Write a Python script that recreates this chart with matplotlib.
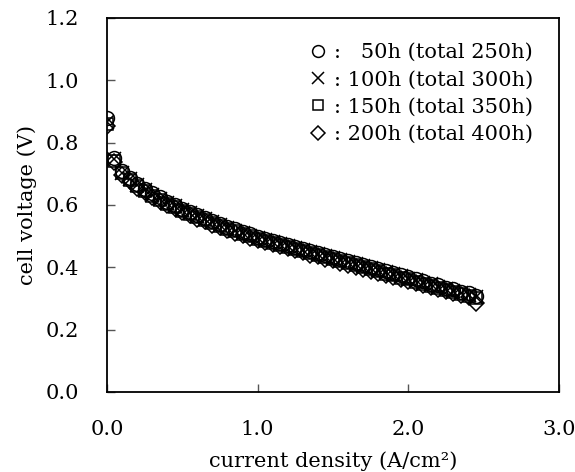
import numpy as np
import matplotlib
matplotlib.use("Agg")
import matplotlib.pyplot as plt

# data
current_density = [0.00, 0.05, 0.10, 0.15, 0.20, 0.25, 0.30, 0.35, 0.40, 0.45,
                   0.50, 0.55, 0.60, 0.65, 0.70, 0.75, 0.80, 0.85, 0.90, 0.95,
                   1.00, 1.05, 1.10, 1.15, 1.20, 1.25, 1.30, 1.35, 1.40, 1.45,
                   1.50, 1.55, 1.60, 1.65, 1.70, 1.75, 1.80, 1.85, 1.90, 1.95,
                   2.00, 2.05, 2.10, 2.15, 2.20, 2.25, 2.30, 2.35, 2.40, 2.45]

v_50h = [0.880, 0.752, 0.708, 0.688, 0.666, 0.651, 0.637, 0.624, 0.611, 0.599,
         0.588, 0.577, 0.567, 0.557, 0.548, 0.539, 0.530, 0.522, 0.514, 0.506,
         0.498, 0.491, 0.485, 0.478, 0.472, 0.465, 0.459, 0.452, 0.446, 0.439,
         0.433, 0.426, 0.420, 0.413, 0.407, 0.400, 0.394, 0.387, 0.381, 0.374,
         0.368, 0.361, 0.355, 0.348, 0.342, 0.335, 0.329, 0.322, 0.316, 0.309]
v_100h = [0.866, 0.746, 0.704, 0.684, 0.663, 0.647, 0.633, 0.620, 0.607, 0.596,
          0.584, 0.574, 0.563, 0.554, 0.544, 0.535, 0.527, 0.518, 0.510, 0.502,
          0.495, 0.488, 0.481, 0.475, 0.468, 0.462, 0.455, 0.449, 0.442, 0.436,
          0.429, 0.423, 0.416, 0.410, 0.403, 0.397, 0.390, 0.384, 0.377, 0.371,
          0.364, 0.358, 0.351, 0.345, 0.338, 0.332, 0.325, 0.319, 0.312, 0.305]
v_150h = [0.860, 0.742, 0.701, 0.681, 0.660, 0.644, 0.630, 0.617, 0.604, 0.593,
          0.581, 0.571, 0.560, 0.551, 0.541, 0.532, 0.524, 0.515, 0.507, 0.499,
          0.492, 0.485, 0.478, 0.472, 0.465, 0.458, 0.452, 0.445, 0.439, 0.432,
          0.426, 0.419, 0.413, 0.406, 0.400, 0.393, 0.387, 0.380, 0.374, 0.367,
          0.361, 0.354, 0.348, 0.341, 0.335, 0.328, 0.322, 0.315, 0.308, 0.301]
v_200h = [0.854, 0.738, 0.697, 0.677, 0.656, 0.640, 0.626, 0.613, 0.600, 0.589,
          0.577, 0.567, 0.556, 0.547, 0.537, 0.528, 0.520, 0.511, 0.503, 0.495,
          0.488, 0.481, 0.474, 0.468, 0.461, 0.454, 0.448, 0.441, 0.435, 0.428,
          0.422, 0.415, 0.409, 0.402, 0.396, 0.389, 0.383, 0.376, 0.370, 0.363,
          0.357, 0.350, 0.344, 0.337, 0.331, 0.324, 0.317, 0.311, 0.304, 0.285]

series_labels = [":\u2007 50h (total 250h)", ": 100h (total 300h)",
                 ": 150h (total 350h)", ": 200h (total 400h)"]
x_ticks = [0.0, 1.0, 2.0, 3.0]
y_ticks = [0.0, 0.2, 0.4, 0.6, 0.8, 1.0, 1.2]

plt.rcParams["font.family"] = ["DejaVu Serif"]
plt.rcParams["font.size"] = 15

fig = plt.figure(figsize=(5.75, 4.72), dpi=100)
ax = fig.add_axes([0.186, 0.1695, 0.786, 0.7925])

styles = [("o", 10), ("x", 10), ("s", 9), ("D", 8)]
for vals, lab, (mk, ms) in zip([v_50h, v_100h, v_150h, v_200h], series_labels, styles):
    ax.plot(current_density, vals, linestyle="none", marker=mk, markersize=ms,
            markerfacecolor="none", markeredgecolor="black", markeredgewidth=1.1,
            color="black", label=lab)

ax.set_xlim(0, 3.0)
ax.set_ylim(0, 1.2)
ax.set_xticks(x_ticks)
ax.set_xticklabels([f"{t:.1f}" for t in x_ticks])
ax.set_yticks(y_ticks)
ax.set_yticklabels([f"{t:.1f}" for t in y_ticks])
ax.tick_params(direction="in", length=6, width=1, color="#555555", pad=20,
               labelsize=15)

for side in ax.spines.values():
    side.set_linewidth(1.3)
    side.set_color("black")

ax.set_xlabel("current density (A/cm\u00b2)", fontsize=15, labelpad=9)
ax.set_ylabel("cell voltage (V)", fontsize=15, labelpad=6)

ax.legend(loc="upper left", bbox_to_anchor=(0.447, 0.933), frameon=False,
          handlelength=0.9, handletextpad=0.3, labelspacing=0.4,
          markerscale=0.85, borderaxespad=0, borderpad=0, fontsize=15)

plt.savefig("out.png", dpi=100)
plt.close()
